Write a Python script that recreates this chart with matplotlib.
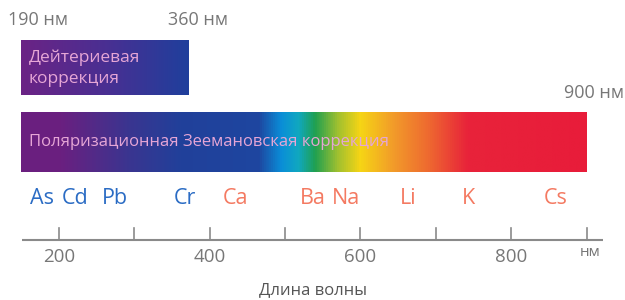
import matplotlib.pyplot as plt
import numpy as np
from matplotlib.colors import LinearSegmentedColormap

plt.rcParams['font.family'] = ['Open Sans', 'DejaVu Sans']

# data
deut_range = [150, 372]          # drawn extent of deuterium bar (nm)
zeeman_range = [150, 900]        # drawn extent of Zeeman bar (nm)
deut_labels = ["190 нм", "360 нм"]
elements = ["As", "Cd", "Pb", "Cr", "Ca", "Ba", "Na", "Li", "K", "Cs"]
element_nm = [178, 221, 274, 367, 434, 537, 581, 663, 743, 859]
element_group = ["b", "b", "b", "b", "r", "r", "r", "r", "r", "r"]
ticks = [200, 300, 400, 500, 600, 700, 800, 900]
tick_labels = ["200", "", "400", "", "600", "", "800", ""]

blue = "#2b6cc4"
salmon = "#f47a62"
grey = "#777777"
pink = "#e6a6d6"

fig = plt.figure(figsize=(6.25, 3.0), dpi=100)
ax = fig.add_axes([0, 0, 1, 1])
ax.axis("off")

# gradients
spec = LinearSegmentedColormap.from_list("spec", [
    (0.00, "#6b1f7f"), (0.07, "#6a2080"), (0.19, "#3a3590"),
    (0.28, "#21409a"), (0.42, "#1e46a0"), (0.46, "#0a8ed8"),
    (0.49, "#10a8c0"), (0.52, "#20a050"), (0.56, "#a0c030"),
    (0.60, "#f6d515"), (0.66, "#f29a2a"), (0.72, "#ee6a30"),
    (0.79, "#e8233a"), (1.00, "#e81c3a")])
deut = LinearSegmentedColormap.from_list("deut", ["#6b2385", "#4a2f92", "#1f3f9c"])
grad = np.linspace(0, 1, 512).reshape(1, -1)

ax.imshow(grad, cmap=deut, aspect="auto",
          extent=[deut_range[0], deut_range[1], 95, 40])
ax.imshow(grad, cmap=spec, aspect="auto",
          extent=[zeeman_range[0], zeeman_range[1], 172, 112])
ax.set_xlim(122, 951)
ax.set_ylim(300, 0)

ax.text(160, 68, "Дейтериевая\nкоррекция", color=pink, fontsize=12.5,
        ha="left", va="center", linespacing=1.4)
ax.text(161, 142, "Поляризационная Зеемановская коррекция", color=pink,
        fontsize=12, ha="left", va="center")

ax.text(132, 20, deut_labels[0], color=grey, fontsize=13, ha="left", va="center")
ax.text(345, 20, deut_labels[1], color=grey, fontsize=13, ha="left", va="center")
ax.text(870, 93, "900 нм", color=grey, fontsize=13, ha="left", va="center")

for name, nm, g in zip(elements, element_nm, element_group):
    ax.text(nm, 198, name, color=blue if g == "b" else salmon,
            fontsize=15.5, ha="center", va="center")

# axis
ax.plot([151, 922], [240, 240], color="#8a8a8a", lw=1.5, solid_capstyle="butt")
for t, lab in zip(ticks, tick_labels):
    ax.plot([t, t], [228, 240], color="#8a8a8a", lw=1.2)
    if lab:
        ax.text(t, 257, lab, color=grey, fontsize=13.5, ha="center", va="center")
ax.text(891, 253, "нм", color=grey, fontsize=11, ha="left", va="center")
ax.text(537, 290, "Длина волны", color="#555555", fontsize=12,
        ha="center", va="center")

fig.savefig("out.png", dpi=100)
